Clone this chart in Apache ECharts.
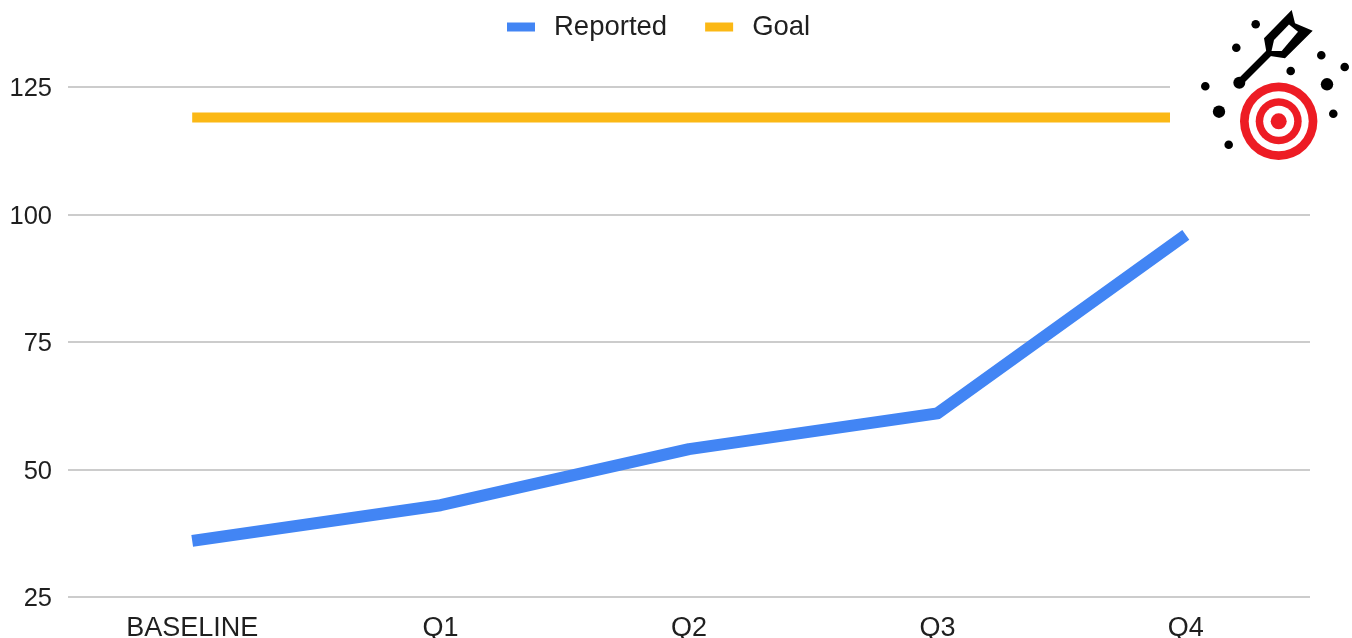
<!DOCTYPE html>
<html>
<head>
<meta charset="utf-8">
<style>html,body{margin:0;padding:0;background:#fff}#c{width:1352px;height:638px}</style>
<script src="https://cdn.jsdelivr.net/npm/echarts@6/dist/echarts.min.js"></script>
</head>
<body>
<div id="c"></div>
<script>
const categories = ['BASELINE', 'Q1', 'Q2', 'Q3', 'Q4'];
const reported = [36, 43, 54, 61, 96];
const goal = [119, 119, 119, 119, 119];
const FONT = '"Liberation Sans", Arial, sans-serif';
const TEXT = '#1f1f1f';

const dots = [[1255.7,24.3,4.3],[1236.3,47.7,4.3],[1321.3,55.3,4.3],[1344.7,67,4.3],[1290.7,71,4.3],[1327,84.3,6.2],[1205.3,86.3,4.3],[1219,111.7,6.2],[1333.3,113.7,4.3],[1228.7,144.7,4.3]];
const rings = [[38.7,'#ed1c24'],[30,'#ffffff'],[23,'#ed1c24'],[15.5,'#ffffff'],[8,'#ed1c24']];
const icon = [
  {type:'rect', shape:{x:1170,y:0,width:182,height:165}, style:{fill:'#fff'}, z:100},
  ...rings.map(([r,c],i)=>({type:'circle', shape:{cx:1278.7,cy:121.3,r}, style:{fill:c}, z:101+i})),
  ...dots.map(([cx,cy,r])=>({type:'circle', shape:{cx,cy,r}, style:{fill:'#000'}, z:110})),
  {type:'circle', shape:{cx:1239.3,cy:82.7,r:6}, style:{fill:'#000'}, z:110},
  {type:'line', shape:{x1:1239.3,y1:82.7,x2:1270,y2:52}, style:{stroke:'#000',lineWidth:7}, z:110},
  {type:'polygon', shape:{points:[[1291.7,10],[1295,23.3],[1312.7,30.7],[1285,58.3],[1267,55.5],[1264,38.3]]},
   style:{fill:'#000'}, z:110},
  {type:'polygon', shape:{points:[[1274,40],[1289,24.5],[1298,31.7],[1281.7,51],[1271.5,51]]},
   style:{fill:'#fff'}, z:111}
];

const chart = echarts.init(document.getElementById('c'), null, {renderer:'canvas'});
chart.setOption({
  animation:false,
  backgroundColor:'#ffffff',
  textStyle:{fontFamily:FONT},
  grid:{left:68,right:42,top:87,bottom:41,containLabel:false,outerBoundsMode:'none'},
  legend:{
    left:502, top:8, icon:'rect', itemWidth:28, itemHeight:9, itemGap:38,
    data:['Reported','Goal'],
    textStyle:{fontFamily:FONT,fontSize:27.5,color:TEXT,padding:[0,0,0,14]}
  },
  xAxis:{
    type:'category', data:categories, boundaryGap:true,
    axisLine:{show:false}, axisTick:{show:false},
    axisLabel:{fontFamily:FONT,fontSize:27,color:TEXT,margin:18}
  },
  yAxis:{
    type:'value', min:25, max:125, interval:25,
    axisLine:{show:false}, axisTick:{show:false},
    axisLabel:{margin:16,verticalAlign:'middle',formatter:'{a|{value}}',
      rich:{a:{fontFamily:FONT,fontSize:25.5,color:TEXT,lineHeight:30,padding:[4,0,0,0]}}},
    splitLine:{lineStyle:{color:'#cccccc',width:2}}
  },
  series:[
    {name:'Reported',type:'line',data:reported,showSymbol:false,symbol:'none',
     lineStyle:{color:'#4285f4',width:12,cap:'butt',join:'round'},itemStyle:{color:'#4285f4'}},
    {name:'Goal',type:'line',data:goal,showSymbol:false,symbol:'none',
     lineStyle:{color:'#fbb815',width:10,cap:'butt'},itemStyle:{color:'#fbb815'}}
  ],
  graphic:{elements:icon}
});
</script>
</body>
</html>
